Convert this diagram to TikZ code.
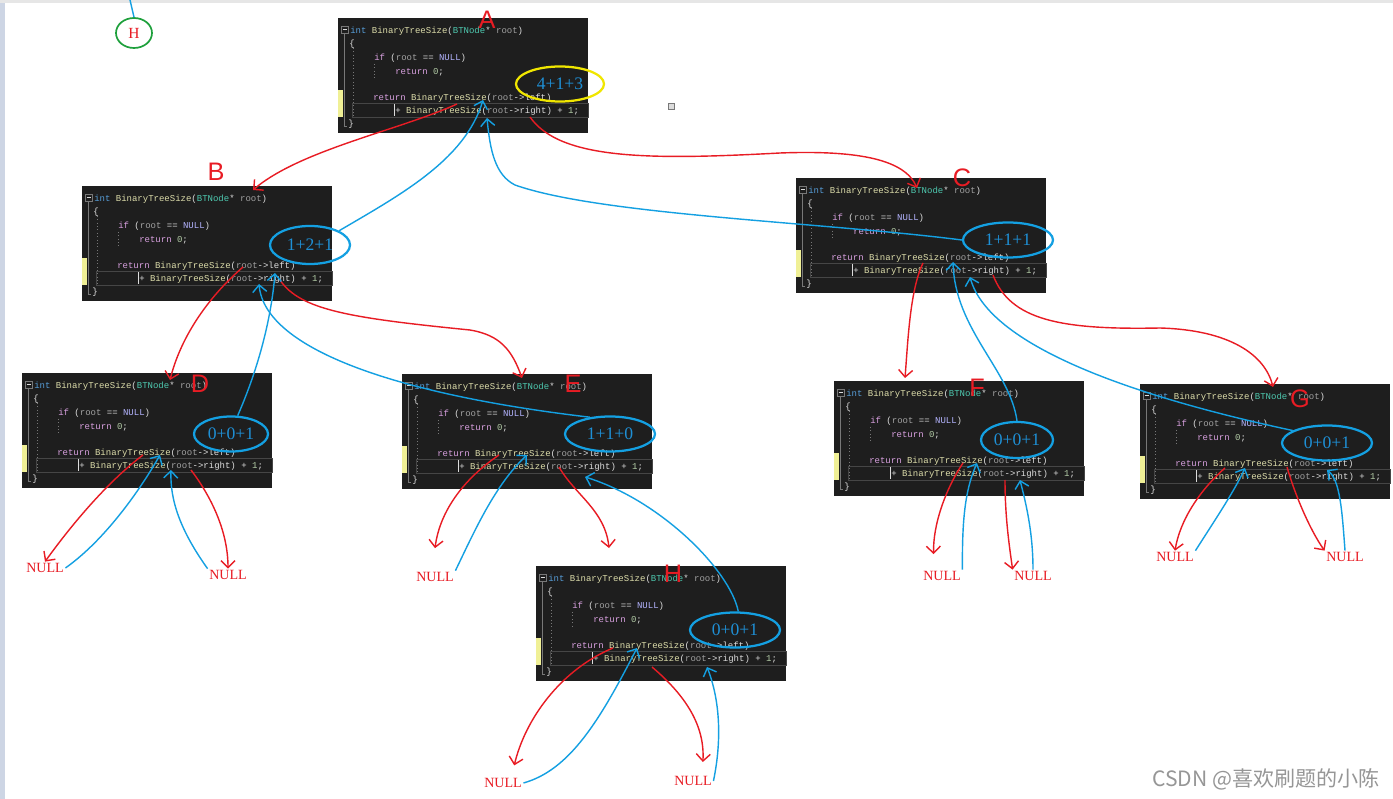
\documentclass[tikz,border=0pt]{standalone}
\usepackage{fontspec}
\setmainfont{Liberation Serif}
\newfontfamily\codefont{Liberation Mono}
\newfontfamily\handfont{Liberation Sans}
\newfontfamily\cjkfont{Noto Sans CJK SC}
\usepackage{tikz}
\usetikzlibrary{shapes.geometric, arrows.meta, positioning, calc}
\definecolor{codebg}{RGB}{30, 30, 30}
\definecolor{kw}{RGB}{86, 156, 214}
\definecolor{fn}{RGB}{220, 220, 170}
\definecolor{ty}{RGB}{78, 201, 176}
\definecolor{par}{RGB}{160, 160, 160}
\definecolor{ctl}{RGB}{216, 160, 223}
\definecolor{mac}{RGB}{180, 180, 255}
\definecolor{num}{RGB}{181, 206, 168}
\definecolor{txt}{RGB}{220, 220, 220}
\definecolor{guide}{RGB}{120, 120, 120}
\definecolor{curline}{RGB}{70, 70, 70}
\definecolor{chgbar}{RGB}{240, 240, 150}
\definecolor{callred}{RGB}{232, 28, 36}
\definecolor{retblue}{RGB}{20, 160, 226}
\definecolor{sumblue}{RGB}{30, 144, 214}
\definecolor{noteyellow}{RGB}{240, 230, 0}
\definecolor{notegreen}{RGB}{30, 160, 60}
\definecolor{wmgray}{RGB}{150, 150, 150}
\definecolor{stripblue}{RGB}{205, 213, 228}
\definecolor{stripgray}{RGB}{230, 230, 230}

\tikzset{
    codebox/.style={fill=codebg, minimum width=6.25cm, minimum height=2.875cm, inner sep=0pt, anchor=north west},
    codeline/.style={anchor=mid west, inner sep=0pt, text=txt, font=\codefont\fontsize{6.4}{7}\selectfont},
    sumell/.style={ellipse, draw=#1, line width=1.6pt, inner sep=0pt, text=sumblue, font=\fontsize{12.5}{14}\selectfont, minimum width=2.25cm, minimum height=0.875cm},
    nulltext/.style={text=callred, inner sep=1pt, font=\fontsize{10}{12}\selectfont},
    letter/.style={text=callred, inner sep=0pt, font=\handfont\fontsize{18}{20}\selectfont},
    call/.style={draw=callred, line width=1pt, -{Straight Barb[length=5pt,width=10pt]}},
    ret/.style={draw=retblue, line width=1pt, -{Straight Barb[length=5pt,width=10pt]}}
}

\begin{document}
\begin{tikzpicture}[x=0.025cm, y=-0.025cm]
\useasboundingbox (0,0) rectangle (1393,799);
\fill[white] (0,0) rectangle (1393,799);
\fill[stripblue] (0,0) rectangle (5,799);
\fill[stripgray] (0,0) rectangle (1393,3);

% code windows
\foreach \n/\x/\y in {A/338/18, B/82/186, C/796/178, D/22/373, E/402/374, F/834/381, G/1140/384, H/536/566} {
\begin{scope}[shift={(\x,\y)}]
    \node[codebox] (\n) at (0,0) {};
    \fill[chgbar] (0,72) rectangle (5,99);
    \draw[guide] (3,8) rectangle (10,15);
    \draw[txt] (4.5,11.5) -- (8.5,11.5);
    \draw[guide] (6.5,16) -- (6.5,108) -- (9,108);
    \draw[guide, dotted] (15,30) -- (15,100);
    \draw[guide, dotted] (36,46) -- (36,60);
    \draw[curline] (14,85) rectangle (250,99);
    \draw[txt] (56,86) -- (56,98);
    \node[codeline] (\n-1) at (12,12) {\textcolor{kw}{int} \textcolor{fn}{BinaryTreeSize}(\textcolor{ty}{BTNode}* \textcolor{par}{root})};
    \node[codeline] (\n-2) at (11,25) {\{};
    \node[codeline] (\n-3) at (36,39) {\textcolor{ctl}{if} (\textcolor{par}{root} == \textcolor{mac}{NULL})};
    \node[codeline] (\n-4) at (57,53) {\textcolor{ctl}{return} \textcolor{num}{0};};
    \node[codeline] (\n-5) at (35,79) {\textcolor{ctl}{return} \textcolor{fn}{BinaryTreeSize}(\textcolor{par}{root}->left)};
    \node[codeline] (\n-6) at (57,92) {+ \textcolor{fn}{BinaryTreeSize}(\textcolor{par}{root}->right) + \textcolor{num}{1};};
    \node[codeline] (\n-7) at (10,105) {\}};
\end{scope}
}

\node[draw=guide, fill=txt, minimum size=4pt, inner sep=0pt] (speck) at (671,106) {};

% hand-written letters
\node[letter] (lblA) at (487,20) {A};
\node[letter] (lblB) at (216,172) {B};
\node[letter] (lblC) at (962,178) {C};
\node[letter] (lblD) at (200,384) {D};
\node[letter] (lblE) at (573,384) {E};
\node[letter] (lblF) at (977,388) {F};
\node[letter] (lblG) at (1300,399) {G};
\node[letter] (lblH) at (673,574) {H};

% partial sums
\node[sumell=noteyellow, minimum width=2.2cm] (sA) at (560,84) {4+1+3};
\node[sumell=retblue, minimum width=2cm, minimum height=0.95cm] (sB) at (310,245) {1+2+1};
\node[sumell=retblue] (sC) at (1008,240) {1+1+1};
\node[sumell=retblue, minimum width=1.85cm] (sD) at (231,434) {0+0+1};
\node[sumell=retblue] (sE) at (610,434) {1+1+0};
\node[sumell=retblue, minimum width=1.8cm, minimum height=0.9cm] (sF) at (1017,440) {0+0+1};
\node[sumell=retblue] (sG) at (1327,443) {0+0+1};
\node[sumell=retblue] (sH) at (735,630) {0+0+1};

% NULL leaves
\node[nulltext] (nD1) at (45,568) {NULL};
\node[nulltext] (nD2) at (228,575) {NULL};
\node[nulltext] (nE1) at (435,577) {NULL};
\node[nulltext] (nH1) at (503,783) {NULL};
\node[nulltext] (nH2) at (693,781) {NULL};
\node[nulltext] (nF1) at (942,576) {NULL};
\node[nulltext] (nF2) at (1033,576) {NULL};
\node[nulltext] (nG1) at (1175,557) {NULL};
\node[nulltext] (nG2) at (1345,557) {NULL};

% note in the corner
\node[ellipse, draw=notegreen, line width=1.2pt, minimum width=0.9cm, minimum height=0.75cm, inner sep=0pt, text=callred, font=\fontsize{11}{13}\selectfont] (hNote) at (134,33) {H};
\coordinate (hTail) at (130,0);
\draw[retblue, line width=1pt] (hNote.north) -- (hTail);

% ends inside the windows
\coordinate (A-cl) at (457,104);  \coordinate (A-cr) at (530,117);
\coordinate (A-rl) at (483,100);  \coordinate (A-rr) at (487,118);
\coordinate (B-in) at (253,190);
\coordinate (B-cl) at (243,267);  \coordinate (B-cr) at (280,280);
\coordinate (B-rl) at (275,273);  \coordinate (B-rr) at (259,284);
\coordinate (C-in) at (917,188);
\coordinate (C-cl) at (923,263);  \coordinate (C-cr) at (993,275);
\coordinate (C-rl) at (953,262);  \coordinate (C-rr) at (970,277);
\coordinate (D-in) at (170,380);
\coordinate (D-cl) at (143,455);  \coordinate (D-cr) at (191,470);
\coordinate (D-rl) at (160,455);  \coordinate (D-rr) at (171,470);
\coordinate (E-in) at (522,378);
\coordinate (E-cl) at (499,455);  \coordinate (E-cr) at (559,467);
\coordinate (E-rl) at (527,455);  \coordinate (E-rr) at (585,477);
\coordinate (F-in) at (905,378);
\coordinate (F-cl) at (963,463);  \coordinate (F-cr) at (1005,480);
\coordinate (F-rl) at (977,463);  \coordinate (F-rr) at (1020,480);
\coordinate (G-in) at (1273,387);
\coordinate (G-cl) at (1225,468); \coordinate (G-cr) at (1287,467);
\coordinate (G-rl) at (1245,468); \coordinate (G-rr) at (1327,470);
\coordinate (H-in) at (609,548);
\coordinate (H-cl) at (613,648);  \coordinate (H-cr) at (652,667);
\coordinate (H-rl) at (637,648);  \coordinate (H-rr) at (707,667);

% calls
\draw[call] (A-cl) .. controls (400,130) and (300,150) .. (B-in);
\draw[call] (A-cr) .. controls (560,160) and (650,160) .. (780,153) .. controls (860,150) and (905,160) .. (C-in);
\draw[call] (B-cl) .. controls (205,300) and (180,340) .. (D-in);
\draw[call] (B-cr) .. controls (300,310) and (350,318) .. (470,330) .. controls (500,335) and (512,350) .. (E-in);
\draw[call] (C-cl) .. controls (910,290) and (908,340) .. (F-in);
\draw[call] (C-cr) .. controls (1010,320) and (1060,330) .. (1160,328) .. controls (1230,330) and (1265,355) .. (G-in);
\draw[call] (D-cl) .. controls (110,480) and (75,520) .. (nD1.north);
\draw[call] (D-cr) .. controls (210,495) and (228,530) .. (nD2.north);
\draw[call] (E-cl) .. controls (465,478) and (440,510) .. ([yshift=16pt]nE1.north);
\draw[call] (E-cr) .. controls (575,495) and (605,510) .. (H-in);
\draw[call] (F-cl) .. controls (945,490) and (933,525) .. ([xshift=-6pt,yshift=11pt]nF1.north);
\draw[call] (F-cr) .. controls (1005,520) and (1010,550) .. (nF2.north west);
\draw[call] (G-cl) .. controls (1200,490) and (1180,520) .. (nG1.north);
\draw[call] (G-cr) .. controls (1295,495) and (1310,530) .. (nG2.north west);
\draw[call] (H-cl) .. controls (560,670) and (525,720) .. ([xshift=8pt,yshift=8pt]nH1.north);
\draw[call] (H-cr) .. controls (685,695) and (705,725) .. ([xshift=7pt,yshift=9pt]nH2.north);

% returns
\draw[ret] (sB.north east) .. controls (400,195) and (465,160) .. (A-rl);
\draw[ret] (sC.west) .. controls (820,222) and (600,215) .. (515,185) .. controls (495,175) and (490,150) .. (A-rr);
\draw[ret] (sD.70) .. controls (262,360) and (272,310) .. (B-rl);
\draw[ret] (sE.140) .. controls (400,395) and (265,350) .. (B-rr);
\draw[ret] (sF.north) .. controls (1010,370) and (955,330) .. (C-rl);
\draw[ret] (sG.160) .. controls (1150,400) and (990,350) .. (C-rr);
\draw[ret] (sH.80) .. controls (730,570) and (660,500) .. (E-rr);
\draw[ret] (nD1.east) .. controls (105,540) and (140,490) .. (D-rl);
\draw[ret] (nD2.north west) .. controls (180,530) and (170,500) .. (D-rr);
\draw[ret] (nE1.north east) .. controls (475,530) and (495,485) .. (E-rl);
\draw[ret] (nH1.east) .. controls (570,770) and (600,720) .. (H-rl);
\draw[ret] (nH2.east) .. controls (722,740) and (720,700) .. (H-rr);
\draw[ret] (nF1.north east) .. controls (962,520) and (965,490) .. (F-rl);
\draw[ret] (nF2.north) .. controls (1033,530) and (1025,500) .. (F-rr);
\draw[ret] (nG1.north east) .. controls (1215,520) and (1235,490) .. (G-rl);
\draw[ret] (nG2.north) .. controls (1342,510) and (1340,480) .. (G-rr);

% watermark
\node[anchor=east, inner sep=0pt, text=wmgray, font=\cjkfont\fontsize{15}{17}\selectfont] (mark) at (1380,779) {CSDN @喜欢刷题的小陈};
\end{tikzpicture}
\end{document}
